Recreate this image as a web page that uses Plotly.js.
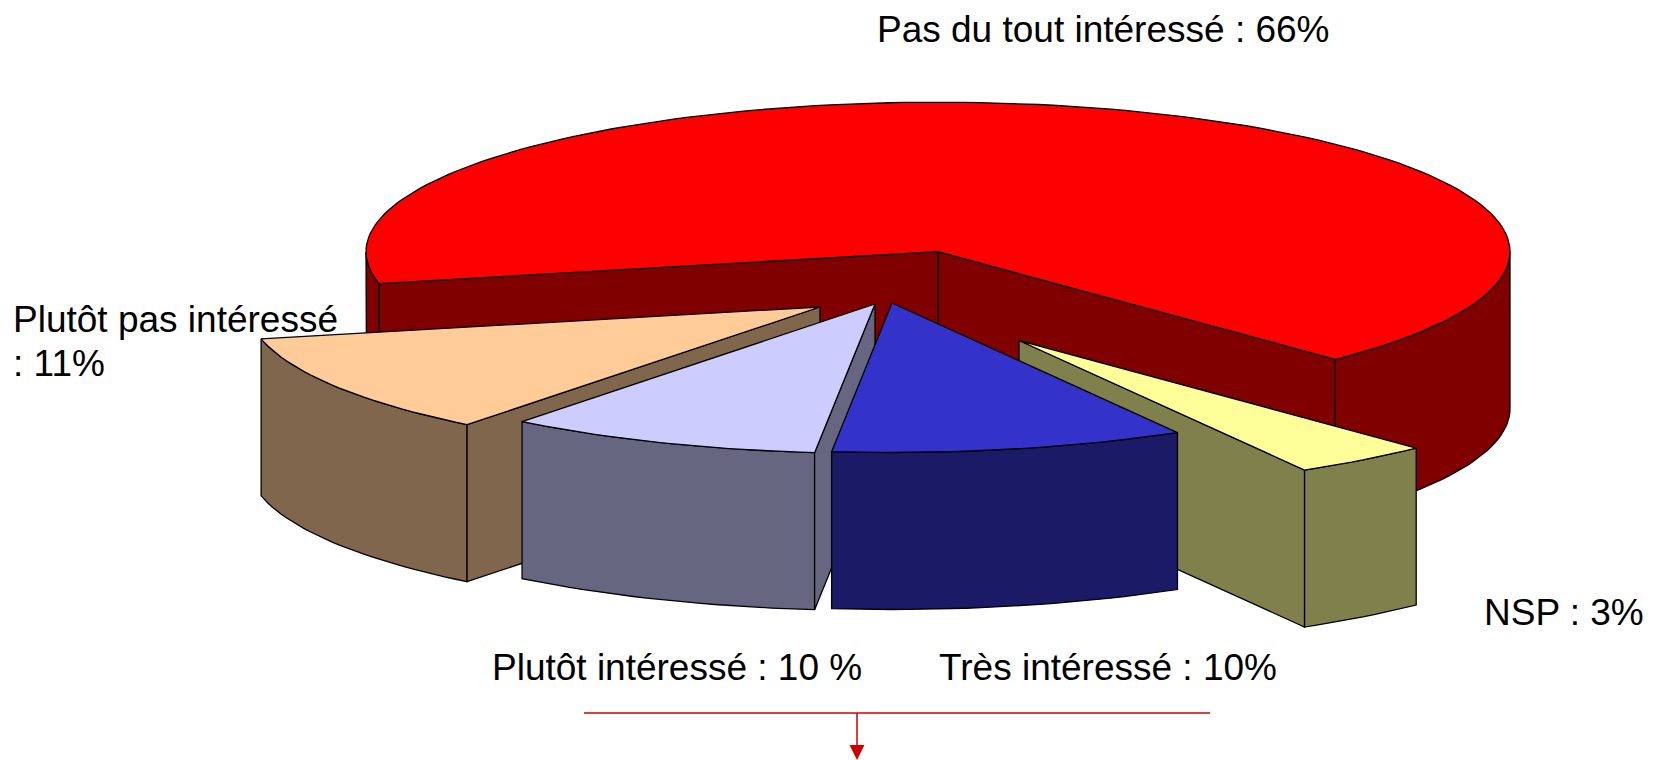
<!DOCTYPE html>
<html>
<head>
<meta charset="utf-8">
<script src="https://cdn.plot.ly/plotly-3.0.1.min.js"></script>
<style>html,body{margin:0;padding:0;background:#fff;overflow:hidden}</style>
</head>
<body>
<div id="chart" style="width:1654px;height:760px"></div>
<script>
// Data (drawn slice shares; printed labels kept as in the source)
const categories = ["Pas du tout intéressé", "NSP", "Très intéressé", "Plutôt intéressé", "Plutôt pas intéressé"];
const drawnShares = [66.2, 3.9, 10, 8.9, 11];
const labelTexts = ["Pas du tout intéressé : 66%", "NSP : 3%", "Très intéressé : 10%", "Plutôt intéressé : 10 %", "Plutôt pas intéressé", ": 11%"];

// Styles and layout
const topColors = ["#FF0000", "#FFFF99", "#3333CC", "#CCCCFF", "#FFCC99"];
const sideColors = ["#800000", "#80804C", "#1A1A66", "#666680", "#80664C"];
const anchors = [[938, 251.7], [1019, 340.5], [892, 303], [875, 304], [820, 307]];
const labelPos = [[875, 29], [1482, 612], [937, 667], [490, 667], [11, 319], [11, 363]];
const paintOrder = [0, 1, 4, 3, 2];
const startAngle = 257.7, rx = 572, ry = 149.5, depth = 157;

const rad = d => d * Math.PI / 180;
const pt = (a, t, dy = 0) => [a[0] + rx * Math.sin(rad(t)), a[1] - ry * Math.cos(rad(t)) + dy];
function arc(a, t0, t1, dy = 0) {
  const out = [], n = Math.max(2, Math.ceil(Math.abs(t1 - t0) / 1.5));
  for (let i = 0; i <= n; i++) out.push(pt(a, t0 + (t1 - t0) * i / n, dy));
  return out;
}
function poly(points, fill, name) {
  const closed = points.concat([points[0]]);
  return {
    type: "scatter", mode: "lines", fill: "toself", fillcolor: fill, name,
    x: closed.map(p => p[0]), y: closed.map(p => p[1]),
    line: { color: "#000", width: 1.3 }, hoverinfo: "name", showlegend: false
  };
}
function wall(a, t0, t1, fill, name) {
  return poly(arc(a, t0, t1).concat(arc(a, t1, t0, depth)), fill, name);
}
function face(a, t, fill, name) {
  const e = pt(a, t);
  return poly([a, e, [e[0], e[1] + depth], [a[0], a[1] + depth]], fill, name);
}

// slice angle ranges, clockwise from the top
const ranges = [];
let cur = startAngle;
drawnShares.forEach(v => { const sweep = v * 3.6; ranges.push([cur, cur + sweep]); cur += sweep; });

const traces = [];
paintOrder.forEach(i => {
  const [t0, t1] = ranges[i], a = anchors[i], side = sideColors[i], name = categories[i];
  // outer wall: only the parts facing the viewer (90°..270°, repeated each turn)
  for (let k = 0; k < 2; k++) {
    const lo = Math.max(t0, 90 + 360 * k), hi = Math.min(t1, 270 + 360 * k);
    if (hi > lo) traces.push(wall(a, lo, hi, side, name));
  }
  // cut faces turned toward the viewer
  if (-Math.sin(rad(t0)) > 0) traces.push(face(a, t0, side, name));
  if (Math.sin(rad(t1)) > 0) traces.push(face(a, t1, side, name));
  traces.push(poly([a].concat(arc(a, t0, t1)), topColors[i], name));
});

const annotations = labelTexts.map((text, i) => ({
  text, x: labelPos[i][0], y: labelPos[i][1], xref: "x", yref: "y",
  xanchor: "left", yanchor: "middle", align: "left", showarrow: false,
  font: { family: "Liberation Sans, Arial, sans-serif", size: 37, color: "#000" }
}));

const arrowRed = "#CC0000";
const shapes = [
  { type: "line", x0: 584, x1: 1210, y0: 713, y1: 713, line: { color: arrowRed, width: 1.5 } },
  { type: "line", x0: 857, x1: 857, y0: 713, y1: 746, line: { color: arrowRed, width: 1.5 } },
  { type: "path", path: "M849.5,745 L864.5,745 L857,760 Z", fillcolor: arrowRed, line: { width: 0 } }
];

Plotly.newPlot("chart", traces, {
  width: 1654, height: 760,
  margin: { l: 0, r: 0, t: 0, b: 0 },
  paper_bgcolor: "#fff", plot_bgcolor: "#fff",
  xaxis: { range: [0, 1654], visible: false, fixedrange: true },
  yaxis: { range: [760, 0], visible: false, fixedrange: true },
  annotations, shapes, showlegend: false
}, { displayModeBar: false, staticPlot: true });
</script>
</body>
</html>
